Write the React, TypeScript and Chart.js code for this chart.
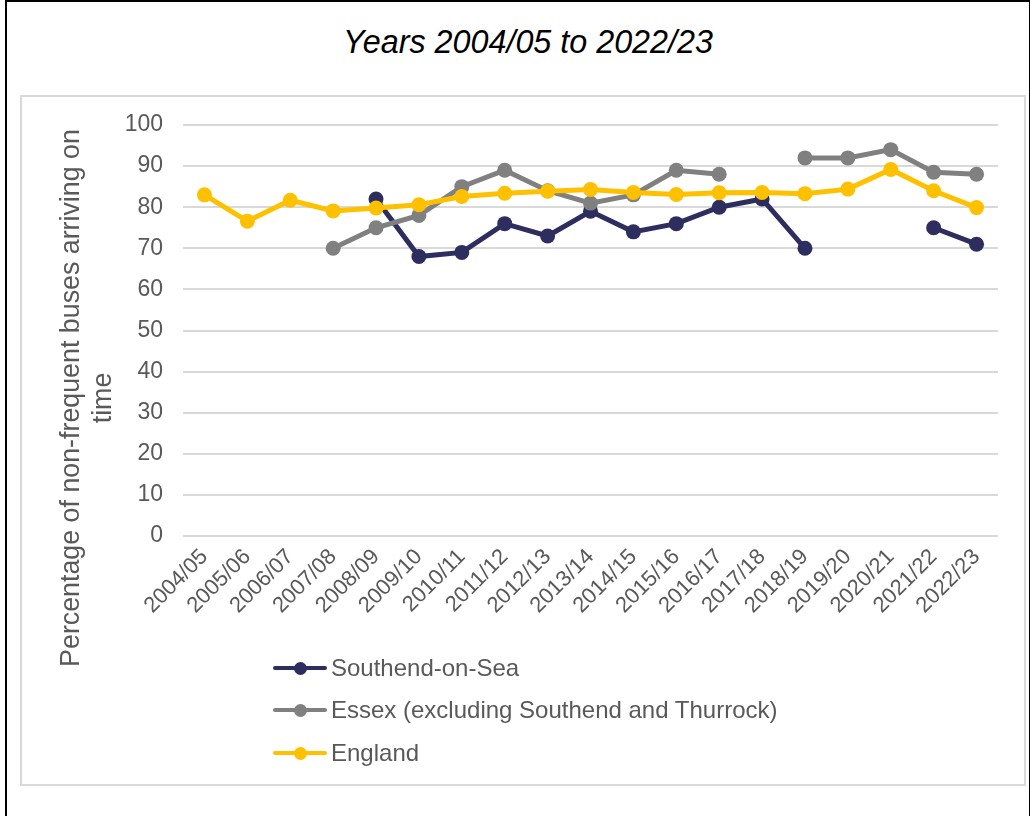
import React, { useEffect, useRef } from "react";
import { Chart, registerables } from "chart.js";

Chart.register(...registerables);

const categories = [
  "2004/05", "2005/06", "2006/07", "2007/08", "2008/09", "2009/10", "2010/11",
  "2011/12", "2012/13", "2013/14", "2014/15", "2015/16", "2016/17", "2017/18",
  "2018/19", "2019/20", "2020/21", "2021/22", "2022/23",
];

const southend: (number | null)[] = [
  null, null, null, null, 82, 68, 69, 76, 73, 79, 74, 76, 80, 82, 70, null, null, 75, 71,
];

const essex: (number | null)[] = [
  null, null, null, 70, 75, 78, 85, 89, 84, 81, 83, 89, 88, null, 92, 92, 94, 88.5, 88,
];

const england: (number | null)[] = [
  83, 76.6, 81.7, 79.1, 79.8, 80.6, 82.6, 83.4, 83.9, 84.3, 83.6, 83.1, 83.5, 83.6, 83.3, 84.4, 89.2, 84, 79.9,
];

const seriesNames = [
  "Southend-on-Sea",
  "Essex (excluding Southend and Thurrock)",
  "England",
];
const seriesColors = ["#2E2D5F", "#808080", "#FFC000"];

const yTitleLines = ["Percentage of non-frequent buses arriving on", "time"];
const titleText = "Years 2004/05 to 2022/23";

const FONT = "Arial, 'Liberation Sans', sans-serif";
const TEXT_COLOR = "#595959";

const yTitlePlugin = {
  id: "yTitleCustom",
  afterDraw(chart: any) {
    const ctx = chart.ctx;
    ctx.save();
    ctx.fillStyle = TEXT_COLOR;
    ctx.font = `26.8px ${FONT}`;
    ctx.textAlign = "center";
    ctx.textBaseline = "alphabetic";
    const cy = 301;
    const xs = [57, 89];
    yTitleLines.forEach((line, i) => {
      ctx.save();
      ctx.translate(xs[i], cy);
      ctx.rotate(-Math.PI / 2);
      ctx.fillText(line, 0, 0);
      ctx.restore();
    });
    ctx.restore();
  },
};

export default function App() {
  const canvasRef = useRef<HTMLCanvasElement | null>(null);

  useEffect(() => {
    if (!canvasRef.current) return;
    const datasets = [southend, essex, england].map((data, i) => ({
      label: seriesNames[i],
      data,
      borderColor: seriesColors[i],
      backgroundColor: seriesColors[i],
      pointBackgroundColor: seriesColors[i],
      pointBorderColor: seriesColors[i],
      borderWidth: 5,
      pointRadius: 7.5,
      pointBorderWidth: 0,
      tension: 0,
      spanGaps: false,
      order: 2 - i,
    }));
    const chart = new Chart(canvasRef.current, {
      type: "line",
      data: { labels: categories, datasets },
      plugins: [yTitlePlugin],
      options: {
        animation: false,
        responsive: false,
        maintainAspectRatio: false,
        devicePixelRatio: 1,
        layout: { padding: { top: 28, right: 26, left: 0, bottom: 0 } },
        plugins: {
          legend: { display: false },
          title: { display: false },
          tooltip: { enabled: false },
        },
        scales: {
          x: {
            offset: true,
            grid: { display: false, drawTicks: false },
            border: { display: false },
            ticks: {
              color: TEXT_COLOR,
              font: { family: FONT, size: 22 },
              maxRotation: 45,
              minRotation: 45,
              autoSkip: false,
              padding: 8,
            },
            afterFit(scale: any) {
              scale.height = 248;
            },
          },
          y: {
            min: 0,
            max: 100,
            grid: {
              color: "#d9d9d9",
              lineWidth: 2,
              drawTicks: true,
              tickLength: 6,
              tickColor: "rgba(0,0,0,0)",
            },
            border: { display: false },
            ticks: {
              stepSize: 10,
              color: TEXT_COLOR,
              font: { family: FONT, size: 23 },
              padding: 14,
            },
            afterFit(scale: any) {
              scale.width = 161;
            },
          },
        },
      },
    });
    return () => chart.destroy();
  }, []);

  return (
    <div
      style={{
        position: "fixed",
        left: 0,
        top: 0,
        width: 1030,
        height: 816,
        background: "#ffffff",
        overflow: "hidden",
        fontFamily: FONT,
      }}
    >
      <div
        style={{
          position: "absolute",
          left: 5,
          top: 0,
          width: 1022,
          height: 830,
          borderLeft: "2px solid #000",
          borderTop: "2px solid #000",
          borderRight: "2px solid #000",
        }}
      />
      <div
        style={{
          position: "absolute",
          left: 343,
          top: 26,
          fontSize: 32.3,
          lineHeight: "32px",
          fontStyle: "italic",
          color: "#000",
          whiteSpace: "nowrap",
        }}
      >
        {titleText}
      </div>
      <div
        style={{
          position: "absolute",
          left: 20,
          top: 95,
          width: 1002,
          height: 687,
          border: "2px solid #d9d9d9",
        }}
      />
      <canvas
        ref={canvasRef}
        width={1002}
        height={687}
        style={{ position: "absolute", left: 22, top: 97, width: 1002, height: 687 }}
      />
      {seriesNames.map((name, i) => (
        <div
          key={name}
          style={{
            position: "absolute",
            left: 273,
            top: [653, 695, 738][i],
            height: 30,
            lineHeight: "30px",
            fontSize: 24,
            color: TEXT_COLOR,
            whiteSpace: "nowrap",
          }}
        >
          <div
            style={{
              position: "absolute",
              left: 0,
              top: 13,
              width: 54,
              height: 4,
              borderRadius: 2,
              background: seriesColors[i],
            }}
          />
          <div
            style={{
              position: "absolute",
              left: 20.5,
              top: 8.5,
              width: 13,
              height: 13,
              borderRadius: "50%",
              background: seriesColors[i],
            }}
          />
          <span style={{ position: "absolute", left: 58, top: 0 }}>{name}</span>
        </div>
      ))}
    </div>
  );
}
